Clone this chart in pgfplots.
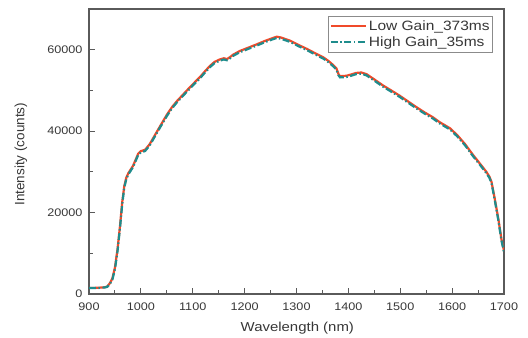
\documentclass[border=0pt]{standalone}
\usepackage{fontspec}
\setmainfont{Liberation Sans}
\newfontfamily\widesans{Liberation Sans}[FakeStretch=1.15]
\usepackage{pgfplots}
\pgfplotsset{compat=1.18}

\definecolor{lowgain}{RGB}{240,74,42}
\definecolor{highgain}{RGB}{30,140,140}
\definecolor{axisgray}{RGB}{90,90,90}
\definecolor{textgray}{RGB}{55,55,55}

\begin{document}
\begin{tikzpicture}
\useasboundingbox (0,0) rectangle (528bp,338bp);
\begin{axis}[
  at={(89bp,44bp)}, anchor=south west,
  scale only axis, width=415bp, height=285bp,
  xmin=900, xmax=1700, ymin=0, ymax=70000,
  xtick={900,1000,...,1700}, ytick={0,20000,40000,60000},
  minor x tick num=1, minor y tick num=1,
  xtick pos=bottom, ytick pos=left, tick align=inside,
  major tick length=6bp, minor tick length=3.5bp,
  axis line style={axisgray, line width=1.2bp},
  every tick/.style={axisgray, line width=1bp},
  scaled y ticks=false,
  /pgf/number format/assume math mode=true,
  /pgf/number format/1000 sep={},
  ticklabel style={font=\widesans\fontsize{11bp}{12bp}\selectfont, text=textgray},
  xticklabel style={anchor=center, yshift=-12.5bp},
  yticklabel style={anchor=east, xshift=-3bp},
  xlabel={Wavelength (nm)}, ylabel={Intensity (counts)},
  every axis x label/.style={at={([yshift=-34bp]axis description cs:0.502,0)}, anchor=center,
    font=\widesans\fontsize{13bp}{15bp}\selectfont, text=textgray},
  every axis y label/.style={at={([xshift=-68bp]axis description cs:0,0.49)}, anchor=center, rotate=90,
    font=\fontsize{13.5bp}{15bp}\selectfont, text=textgray},
  legend style={at={(rel axis cs:0.9735,0.975)}, anchor=north east,
    draw=axisgray!70, line width=0.6bp, inner xsep=1bp, inner ysep=2bp,
    font=\widesans\fontsize{13.5bp}{15bp}\selectfont, text=textgray,
    row sep=1bp},
  legend cell align=left,
  legend image code/.code={\draw[#1] (0bp,0bp) -- (35bp,0bp);},
]
% low gain, 373 ms integration
\addplot[lowgain, line width=2.2bp] coordinates {
(900,1500) (910,1500) (920,1550) (930,1650) (935,1800) (940,2600) (945,3800)
(950,6500) (955,11000) (960,17000) (964,22500) (968,26500) (972,28600)
(976,29700) (980,30500) (985,31500) (990,33000) (995,34500) (1000,35100)
(1008,35400) (1017,36800) (1027,39000) (1037,41200) (1050,44000) (1060,45900)
(1069,47300) (1080,48800) (1088,49900) (1100,51500) (1114,53300) (1125,54900)
(1133,56000) (1142,57000) (1152,57600) (1160,57900) (1166,57700) (1172,58200)
(1178,58800) (1191,59700) (1205,60400) (1223,61300) (1240,62200) (1255,62900)
(1262,63200) (1270,63000) (1288,62200) (1305,61100) (1320,60200) (1335,59200)
(1352,58100) (1362,57200) (1371,56200) (1377,55400) (1381,54000) (1384,53500)
(1396,53600) (1405,53900) (1415,54300) (1425,54400) (1435,54000) (1450,52700)
(1467,51200) (1480,50200) (1499,48700) (1515,47300) (1531,45900) (1547,44600)
(1563,43400) (1576,42200) (1596,40700) (1610,39000) (1625,36800) (1640,34200)
(1655,31800) (1666,30000) (1672,28800) (1676,27500) (1682,23500) (1689,18500)
(1695,13500) (1700,10600)
};
\addlegendentry{Low Gain\_373ms}
% high gain, 35 ms integration
\addplot[highgain, line width=2.2bp, dash pattern=on 7bp off 2.5bp on 1.5bp off 2.5bp] coordinates {
(900,1450) (910,1450) (920,1500) (930,1600) (935,1750) (940,2400) (945,3500)
(950,6100) (955,10500) (960,16500) (964,22000) (968,26100) (972,28300)
(976,29400) (980,30200) (985,31200) (990,32700) (995,34200) (1000,34800)
(1008,35100) (1017,36500) (1027,38700) (1037,40900) (1050,43700) (1060,45600)
(1069,47000) (1080,48500) (1088,49600) (1100,51200) (1114,53000) (1125,54600)
(1133,55700) (1142,56700) (1152,57300) (1160,57600) (1166,57400) (1172,57900)
(1178,58500) (1191,59400) (1205,60100) (1223,61000) (1240,61900) (1255,62600)
(1262,62900) (1270,62700) (1288,61900) (1305,60800) (1320,59900) (1335,58900)
(1352,57800) (1362,56900) (1371,55900) (1377,55100) (1381,53700) (1384,53200)
(1396,53300) (1405,53600) (1415,54000) (1425,54100) (1435,53700) (1450,52400)
(1467,50900) (1480,49900) (1499,48400) (1515,47000) (1531,45600) (1547,44300)
(1563,43100) (1576,41900) (1596,40400) (1610,38700) (1625,36500) (1640,33900)
(1655,31500) (1666,29700) (1672,28500) (1676,27200) (1682,23200) (1689,18200)
(1695,13200) (1700,10300)
};
\addlegendentry{High Gain\_35ms}
\end{axis}
\end{tikzpicture}
\end{document}
